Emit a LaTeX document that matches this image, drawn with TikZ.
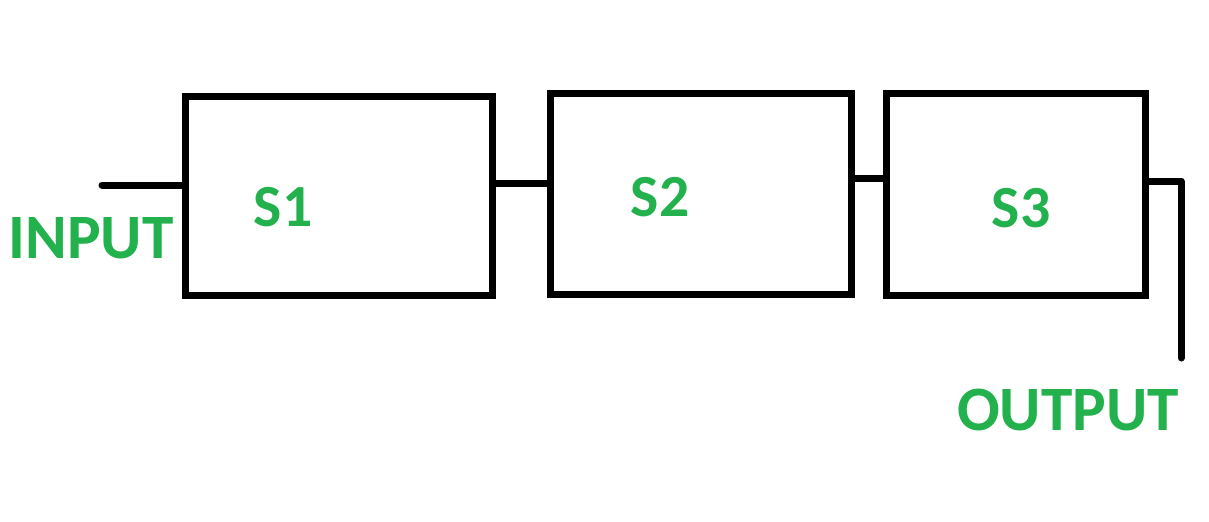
\documentclass[tikz,border=0pt]{standalone}
\usepackage{fontspec}
\setmainfont{Carlito}
\definecolor{lblgreen}{HTML}{22B14C}
\begin{document}
\begin{tikzpicture}[x=0.02cm,y=-0.02cm,
  blk/.style={draw=black,line width=0.14cm,minimum width=#1,inner sep=0pt},
  wire/.style={draw=black,line width=0.14cm},
  lbl/.style={text=lblgreen,font=\bfseries\fontsize{36}{38}\selectfont,inner sep=0pt,anchor=base},
  slbl/.style={text=lblgreen,font=\bfseries\fontsize{34}{36}\selectfont,inner sep=0pt,anchor=base}]
\useasboundingbox (0,0) rectangle (1209,521);
\node[blk=6.16cm,minimum height=4cm] (S1) at (339,196) {};
\node[blk=6.04cm,minimum height=4.04cm] (S2) at (701,194) {};
\node[blk=5.2cm,minimum height=4.06cm] (S3) at (1016,194.5) {};
\coordinate (in) at (102,185);
\coordinate (c12) at (0,183);
\coordinate (c23) at (0,178);
\coordinate (c3o) at (0,181);
\coordinate (bend) at (1181,181);
\coordinate (out) at (1181,358);
\draw[wire,line cap=round] (in) -- (in -| S1.west);
\draw[wire] (c12 -| S1.east) -- (c12 -| S2.west);
\draw[wire] (c23 -| S2.east) -- (c23 -| S3.west);
\draw[wire,line cap=round,line join=round] (c3o -| S3.east) -- (bend) -- (out);
\node[lbl] (tin) at (91,258) {INPUT};
\node[lbl] (tout) at (1068,430) {OUTPUT};
\node[slbl] (t1) at (283,226) {S1};
\node[slbl] (t2) at (660,216) {S2};
\node[slbl] (t3) at (1021,227) {S3};
\end{tikzpicture}
\end{document}
